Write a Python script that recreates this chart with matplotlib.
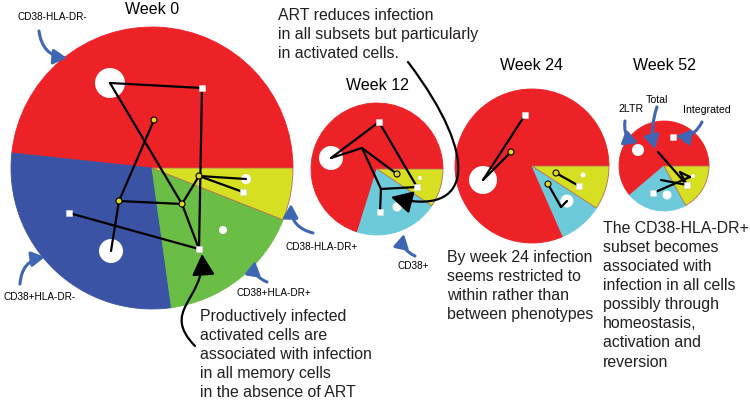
import numpy as np
import matplotlib.pyplot as plt
from matplotlib.patches import Wedge, Circle, Rectangle, FancyArrowPatch
from matplotlib.path import Path

plt.rcParams['font.family'] = ['Liberation Sans', 'DejaVu Sans']

RED = '#ec2227'
BLUE = '#3a53a4'
GREEN = '#6abd45'
YELLOW = '#d7df23'
CYAN = '#6dcadb'
ARROW_BLUE = '#3f66b3'

# pie fractions (counter-clockwise from 3 o'clock)
w0_fracs = [0.483, 0.289, 0.168, 0.060]
w0_cols = [RED, BLUE, GREEN, YELLOW]
w12_fracs = [0.702, 0.204, 0.094]
w24_fracs = [0.816, 0.092, 0.092]
w52_fracs = [0.612, 0.218, 0.170]
late_cols = [RED, CYAN, YELLOW]

# pie centres / radii (pixels)
pie_centres = [(152, 168), (377, 169), (532, 166), (664, 166)]
pie_radii = [141, 66, 77, 45]
titles = ['Week 0', 'Week 12', 'Week 24', 'Week 52']
title_y = [10, 85, 65, 65]

# network nodes: c = 2LTR (white circle, x, y, r), s = integrated (square), t = total (yellow), j = joint
w0_nodes = {'c1': (110, 83, 15), 'c2': (111, 251, 12), 'c3': (246, 179, 5), 'c4': (223, 230, 4),
            's1': (202, 88), 's2': (199, 249), 's3': (243, 192), 's4': (69, 213),
            't1': (154, 120), 't2': (119, 201), 't3': (182, 204), 't4': (199, 176)}
w0_edges = [('c1', 's1'), ('s1', 's2'), ('c1', 't3'), ('t1', 't2'), ('t2', 'c2'), ('t2', 't3'),
            ('t3', 't4'), ('t3', 's2'), ('t4', 'c3'), ('t4', 's3'), ('s4', 's2')]

w12_nodes = {'c1': (331, 158, 12), 'c2': (397, 207, 4.5), 'c3': (420, 178, 2),
             's1': (379, 122), 's2': (417, 187), 's3': (380, 212),
             't1': (397, 174), 'j1': (362, 148), 'j2': (381, 189)}
w12_edges = [('c1', 's1'), ('s1', 's2'), ('c1', 'j1'), ('j1', 't1'), ('j1', 'j2'),
             ('j2', 's2'), ('j2', 's3')]

w24_nodes = {'c1': (483, 180, 14), 'c2': (567, 201, 6.5), 'c3': (583, 175, 2.5),
             's1': (525, 115), 's2': (579, 186),
             't1': (511, 152), 't2': (556, 173), 't3': (548, 184), 'j1': (561, 207)}
w24_edges = [('c1', 's1'), ('c1', 't1'), ('t2', 's2'), ('t3', 'j1'), ('j1', 'c2')]

w52_nodes = {'c1': (638, 150, 6), 'c2': (667, 195, 4.5), 'c3': (693, 176, 2),
             's1': (673, 137), 's2': (687, 185), 's3': (653, 193),
             'j0': (658, 152), 'j1': (661, 180), 'j2': (690, 177), 'j3': (680, 172)}
w52_edges = [('j0', 's2'), ('j1', 's2'), ('s3', 'j2'), ('j3', 's2'), ('j3', 'j2')]

# phenotype labels: text, text pos, arrow tail, arrow head, curvature
labels = ['CD38-HLA-DR-', 'CD38+HLA-DR-', 'CD38+HLA-DR+', 'CD38-HLA-DR+', 'CD38+',
          '2LTR', 'Total', 'Integrated']
label_pos = [(52, 17), (40, 297), (274, 293), (322, 247), (413, 266),
             (631, 109), (657, 100), (707, 110)]
arrow_tail = [(39, 31), (20, 284), (267, 282), (313, 233), (415, 256),
              (625, 121), (657, 107), (702, 122)]
arrow_head = [(67, 58), (45, 257), (255, 261), (291, 204), (404, 234),
              (638, 143), (655, 149), (676, 136)]
arrow_rad = [0.4, -0.4, -0.4, -0.4, -0.4, 0.4, 0.15, -0.35]

fig = plt.figure(figsize=(7.5, 4.03), dpi=100)
ax = fig.add_axes([0, 0, 1, 1])
ax.set_xlim(0, 750)
ax.set_ylim(403, 0)
ax.axis('off')


def draw_pie(centre, r, fracs, cols):
    start = 0.0
    for f, c in zip(fracs, cols):
        end = start + f * 360
        ec = '#b86a55' if c == YELLOW else c
        ax.add_patch(Wedge(centre, r, -end, -start, facecolor=c, edgecolor=ec, lw=0.6))
        start = end


def pt(n):
    return n[0], n[1]


def draw_net(nodes, edges):
    for a, b in edges:
        xa, ya = pt(nodes[a])
        xb, yb = pt(nodes[b])
        ax.plot([xa, xb], [ya, yb], color='black', lw=1.6, solid_capstyle='round', zorder=3)
    for k, v in nodes.items():
        if k[0] == 'c':
            ax.add_patch(Circle((v[0], v[1]), v[2], facecolor='white', edgecolor='none', zorder=2))
        elif k[0] == 's':
            ax.add_patch(Rectangle((v[0] - 2.8, v[1] - 2.8), 5.6, 5.6, facecolor='white',
                                   edgecolor='#dddddd', lw=0.4, zorder=4))
        elif k[0] == 't':
            ax.add_patch(Circle((v[0], v[1]), 3, facecolor='#e3d81f', edgecolor='black', lw=0.8, zorder=4))


draw_pie(pie_centres[0], pie_radii[0], w0_fracs, w0_cols)
draw_pie(pie_centres[1], pie_radii[1], w12_fracs, late_cols)
draw_pie(pie_centres[2], pie_radii[2], w24_fracs, late_cols)
draw_pie(pie_centres[3], pie_radii[3], w52_fracs, late_cols)

for nodes, edges in [(w0_nodes, w0_edges), (w12_nodes, w12_edges),
                     (w24_nodes, w24_edges), (w52_nodes, w52_edges)]:
    draw_net(nodes, edges)

for (cx, cy), t, ty in zip(pie_centres, titles, title_y):
    ax.text(cx, ty, t, fontsize=11.5, ha='center', va='center')

for i, lab in enumerate(labels):
    fs = 7.2 if i < 5 else 7.6
    ax.text(label_pos[i][0], label_pos[i][1], lab, fontsize=fs, ha='center', va='center')
    ax.add_patch(FancyArrowPatch(arrow_tail[i], arrow_head[i],
                                 connectionstyle='arc3,rad=%.2f' % arrow_rad[i],
                                 arrowstyle='-|>,head_length=8,head_width=4.5',
                                 shrinkA=0, shrinkB=0,
                                 color=ARROW_BLUE, lw=2.2, zorder=5))

# black comment arrows
verts = [(408, 62), (482, 160), (472, 218), (391, 197)]
ax.add_patch(FancyArrowPatch(path=Path(verts, [Path.MOVETO, Path.CURVE4, Path.CURVE4, Path.CURVE4]),
                             arrowstyle='-|>,head_length=13,head_width=7', color='black', lw=1.6, zorder=6))
verts = [(195, 346), (160, 310), (205, 300), (202, 254)]
ax.add_patch(FancyArrowPatch(path=Path(verts, [Path.MOVETO, Path.CURVE4, Path.CURVE4, Path.CURVE4]),
                             arrowstyle='-|>,head_length=13,head_width=7', color='black', lw=1.6, zorder=6))

txt_kw = dict(fontsize=11.4, ha='left', va='top', linespacing=1.34, color='#231f20')
ax.text(278, 8, 'ART reduces infection\nin all subsets but particularly\nin activated cells.', **txt_kw)
ax.text(200, 309, 'Productively infected\nactivated cells are\nassociated with infection\nin all memory cells\nin the absence of ART', **txt_kw)
ax.text(447, 250, 'By week 24 infection\nseems restricted to\nwithin rather than\nbetween phenotypes', **txt_kw)
ax.text(603, 221, 'The CD38-HLA-DR+\nsubset becomes\nassociated with\ninfection in all cells\npossibly through\nhomeostasis,\nactivation and\nreversion', **txt_kw)

fig.savefig('out.png', dpi=100)
